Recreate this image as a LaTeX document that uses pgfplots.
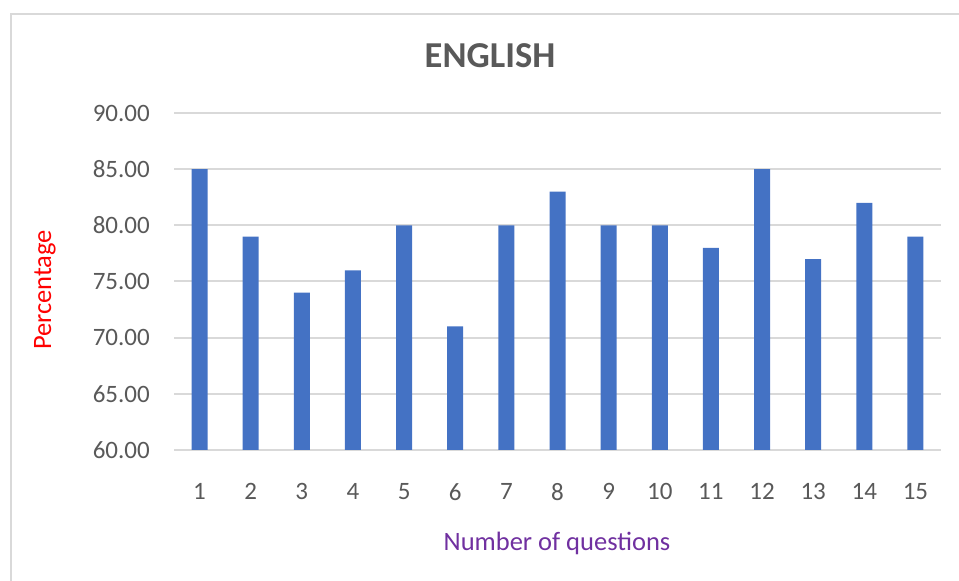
\documentclass[border=0pt]{standalone}
\usepackage{pgfplots}
\pgfplotsset{compat=1.18}
\usepackage{fontspec}
\setmainfont{Carlito}
\definecolor{barblue}{HTML}{4472C4}
\definecolor{gridgray}{HTML}{D9D9D9}
\definecolor{txtgray}{HTML}{595959}
\definecolor{labpurple}{HTML}{7030A0}
\begin{document}
\begin{tikzpicture}
\useasboundingbox (0,0) rectangle (959pt,581pt);
\draw[gridgray, line width=2.2pt] (11pt,0) -- (11pt,567pt) -- (959pt,567pt);
\begin{axis}[
  at={(174pt,131pt)}, anchor=south west,
  scale only axis, width=767pt, height=337pt,
  ybar, bar width=16pt, bar shift=0pt,
  xmin=0.5, xmax=15.5, ymin=60, ymax=90,
  xtick={1,...,15}, ytick={60,65,...,90},
  axis line style={draw=none},
  major tick length=0pt,
  ymajorgrids, grid style={gridgray, line width=2pt},
  /pgf/number format/assume math mode=true,
  yticklabel style={/pgf/number format/.cd, fixed, fixed zerofill, precision=2, /tikz/.cd,
    inner sep=0pt, anchor=east, xshift=-24pt, font=\fontsize{25}{29}\selectfont, text=txtgray},
  xticklabel style={inner sep=0pt, anchor=north, yshift=-33pt, font=\fontsize{25}{29}\selectfont, text=txtgray},
  clip=true,
]
\addplot[fill=barblue, draw=none] coordinates {
(1,85) (2,79) (3,74) (4,76) (5,80) (6,71) (7,80) (8,83) (9,80) (10,80) (11,78) (12,85) (13,77) (14,82) (15,79)
};
\end{axis}
\node[font=\fontsize{36.5}{42}\selectfont\bfseries, text=txtgray] at (490pt,525pt) {ENGLISH};
\node[font=\fontsize{26.5}{31}\selectfont, text=labpurple] at (557pt,38pt) {Number of questions};
\node[font=\fontsize{26.5}{31}\selectfont, text=red, rotate=90] at (45pt,291pt) {Percentage};
\end{tikzpicture}
\end{document}
